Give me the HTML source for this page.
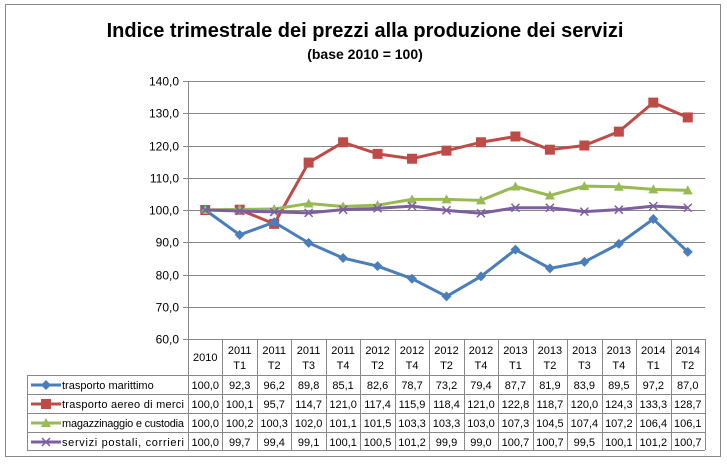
<!DOCTYPE html>
<html><head><meta charset="utf-8"><style>
body{margin:0;background:#fff;font-family:"Liberation Sans",sans-serif}
svg text{font-family:"Liberation Sans",sans-serif;fill:#000}
</style></head><body>
<svg id="c" width="727" height="461" xmlns="http://www.w3.org/2000/svg">
<rect x="5.5" y="4.5" width="715" height="452" fill="#fff" stroke="#888"/>
<text x="365" y="37" text-anchor="middle" font-size="20" font-weight="bold">Indice trimestrale dei prezzi alla produzione dei servizi</text>
<text x="365" y="59" text-anchor="middle" font-size="14" font-weight="bold">(base 2010 = 100)</text>
<g id="grid"></g><g id="tbl"></g><g id="series"></g>
</svg>
<script>
const categories=[["2010"],["2011","T1"],["2011","T2"],["2011","T3"],["2011","T4"],["2012","T2"],["2012","T4"],["2012","T2"],["2012","T4"],["2013","T1"],["2013","T2"],["2013","T3"],["2013","T4"],["2014","T1"],["2014","T2"]];
const seriesNames=["trasporto marittimo","trasporto aereo di merci","magazzinaggio e custodia","servizi postali, corrieri"];
const marittimo=[100.0,92.3,96.2,89.8,85.1,82.6,78.7,73.2,79.4,87.7,81.9,83.9,89.5,97.2,87.0];
const aereo=[100.0,100.1,95.7,114.7,121.0,117.4,115.9,118.4,121.0,122.8,118.7,120.0,124.3,133.3,128.7];
const magazz=[100.0,100.2,100.3,102.0,101.1,101.5,103.3,103.3,103.0,107.3,104.5,107.4,107.2,106.4,106.1];
const postali=[100.0,99.7,99.4,99.1,100.1,100.5,101.2,99.9,99.0,100.7,100.7,99.5,100.1,101.2,100.7];
const yTicks=[60,70,80,90,100,110,120,130,140];
const colors=["#4a7ebb","#be4b48","#98b954","#7d5fa0"];
const NS="http://www.w3.org/2000/svg";
const X0=188,X1=705,Y60=339,Y140=81;
const cw=(X1-X0)/marittimo.length;
const xs=i=>X0+cw*(i+0.5);
const ys=v=>Y60-(v-60)*(Y60-Y140)/80;
function mk(tag,attrs,parent){const e=document.createElementNS(NS,tag);for(const k in attrs)e.setAttribute(k,attrs[k]);parent.appendChild(e);return e;}
const grid=document.getElementById('grid');
yTicks.forEach(t=>{
 const y=Math.round(ys(t))+0.5;
 const l=mk('line',{x1:X0-5,x2:X1,y1:y,y2:y,stroke:'#888'},grid);
 
 
 const tx=mk('text',{x:X0-9,y:y+4,'text-anchor':'end','font-size':12},grid);
 tx.textContent=t.toFixed(1).replace('.',',');
 
 
});
const ax=mk('line',{x1:X0+0.5,x2:X0+0.5,y1:Y140,y2:Y60,stroke:'#888'},grid);


const tbl=document.getElementById('tbl');
const rowT=[375,394,413,432,450],TL=27;
const lnC='#888';
for(let i=0;i<=marittimo.length;i++){const x=Math.round(X0+cw*i)+0.5;mk('line',{x1:x,x2:x,y1:Y60,y2:450,stroke:lnC},tbl);}
rowT.forEach(y=>mk('line',{x1:(y===375?TL:TL),x2:X1,y1:y+0.5,y2:y+0.5,stroke:lnC},tbl));
mk('line',{x1:TL+0.5,x2:TL+0.5,y1:375,y2:450,stroke:lnC},tbl);
categories.forEach((c,i)=>{
 const t=mk('text',{x:xs(i),'text-anchor':'middle','font-size':11},tbl);
 
 
 if(c.length===1){t.setAttribute('y',361);t.textContent=c[0];}
 else{t.setAttribute('y',354);t.textContent=c[0];const t2=mk('text',{x:xs(i),y:369,'text-anchor':'middle','font-size':11},tbl);t2.textContent=c[1];}
});
const all=[marittimo,aereo,magazz,postali];
all.forEach((arr,r)=>{
 const y=rowT[r]+14;
 const lg=mk('line',{x1:31,x2:61,y1:y-4,y2:y-4,stroke:colors[r],'stroke-width':3},tbl);
 
 
 const n=mk('text',{x:62,y:y,'font-size':11,textLength:seriesNames[r].length>23?122:null},tbl);n.textContent=seriesNames[r];
 if(seriesNames[r].length<=23)n.removeAttribute('textLength');
 
 
 arr.forEach((v,i)=>{const t=mk('text',{x:xs(i),y:y,'text-anchor':'middle','font-size':11},tbl);t.textContent=v.toFixed(1).replace('.',',');
 
 });
});
const sg=document.getElementById('series');
function marker(type,x,y,c,p){
 let e;
 if(type===0)e=mk('polygon',{points:`${x},${y-5} ${x+5},${y} ${x},${y+5} ${x-5},${y}`,fill:c},p);
 else if(type===1)e=mk('rect',{x:x-5,y:y-5,width:10,height:10,fill:c},p);
 else if(type===2)e=mk('polygon',{points:`${x},${y-5} ${x+5},${y+4} ${x-5},${y+4}`,fill:c},p);
 else e=mk('path',{d:`M${x-4},${y-4}L${x+4},${y+4}M${x-4},${y+4}L${x+4},${y-4}`,stroke:c,'stroke-width':1.5},p);
 
 
}
[1,0,2,3].forEach(r=>{
 const arr=all[r];
 const pl=mk('polyline',{points:arr.map((v,i)=>xs(i)+','+ys(v)).join(' '),fill:'none',stroke:colors[r],'stroke-width':3,'stroke-linejoin':'round'},sg);
 
 
 arr.forEach((v,i)=>marker(r,xs(i),ys(v),colors[r],sg));
});
const leg=tbl.querySelectorAll('line[stroke-width="3"]');
leg.forEach((l,r)=>marker(r,46,+l.getAttribute('y1'),colors[r],tbl));
</script>
</body></html>
